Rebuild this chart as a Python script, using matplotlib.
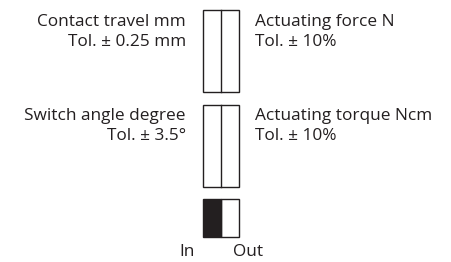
import matplotlib
matplotlib.use("Agg")
import matplotlib.pyplot as plt
from matplotlib.patches import Rectangle

left_labels = [["Contact travel mm", "Tol. ± 0.25 mm"], ["Switch angle degree", "Tol. ± 3.5°"]]
right_labels = [["Actuating force N", "Tol. ± 10%"], ["Actuating torque Ncm", "Tol. ± 10%"]]
bottom_labels = ["In", "Out"]

W, H = 452, 262
fig = plt.figure(figsize=(W / 100, H / 100), dpi=100)
ax = fig.add_axes([0, 0, 1, 1])
ax.set_xlim(0, W)
ax.set_ylim(H, 0)
ax.axis("off")

ink = "#231f20"
fs = 12.4
fam = ["Open Sans", "DejaVu Sans"]

x0, xm, x1 = 202.7, 221.3, 239.3
boxes = [(10, 92.3), (105.3, 187.3)]
baselines = [(26.5, 46.5), (120, 139.5)]
for (yt, yb), (b1, b2), ll, rl in zip(boxes, baselines, left_labels, right_labels):
    ax.add_patch(Rectangle((x0, yt), x1 - x0, yb - yt, fill=False, ec=ink, lw=1.0))
    ax.plot([xm, xm], [yt, yb], color=ink, lw=1.0)
    for b, t in zip((b1, b2), ll):
        ax.text(186, b, t, ha="right", va="baseline", fontsize=fs, family=fam, color=ink)
    for b, t in zip((b1, b2), rl):
        ax.text(255.3, b, t, ha="left", va="baseline", fontsize=fs, family=fam, color=ink)

yt, yb = 199.3, 236.7
ax.add_patch(Rectangle((x0, yt), xm - x0, yb - yt, fc=ink, ec=ink, lw=1.0))
ax.add_patch(Rectangle((xm, yt), x1 - xm, yb - yt, fill=False, ec=ink, lw=1.0))
ax.text(187, 256.5, bottom_labels[0], ha="center", va="baseline", fontsize=fs, family=fam, color=ink)
ax.text(248, 256.5, bottom_labels[1], ha="center", va="baseline", fontsize=fs, family=fam, color=ink)

fig.savefig("out.png", dpi=100, facecolor="white")
